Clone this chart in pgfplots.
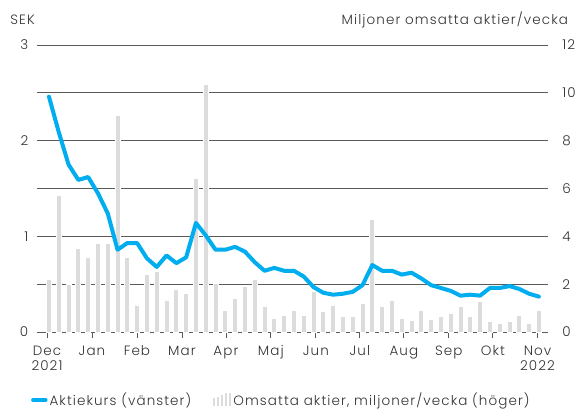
\documentclass[border=0pt]{standalone}
\usepackage{pgfplots}
\pgfplotsset{compat=1.18}
\usepackage{pgfplotstable}
\usepackage{fontspec}
\setmainfont{Poppins}[UprightFont=* Light, LetterSpace=8]
\definecolor{kurs}{HTML}{00AEEF}
\definecolor{barc}{HTML}{DCDCDC}
\definecolor{gridc}{HTML}{5A5A5A}
\definecolor{txt}{HTML}{333333}

\pgfplotstableread{
x v
0 2.2
1 5.7
2 2.0
3 3.5
4 3.1
5 3.7
6 3.7
7 9.06
8 3.12
9 1.13
10 2.42
11 2.55
12 1.34
13 1.76
14 1.63
15 6.42
16 10.33
17 2.03
18 0.92
19 1.41
20 1.9
21 2.2
22 1.06
23 0.57
24 0.71
25 0.92
26 0.71
27 1.69
28 0.85
29 1.13
30 0.64
31 0.64
32 1.2
33 4.71
34 1.06
35 1.3
36 0.57
37 0.5
38 0.92
39 0.54
40 0.64
41 0.78
42 1.06
43 0.64
44 1.27
45 0.43
46 0.36
47 0.43
48 0.71
49 0.36
50 0.92
}\volym

\pgfplotstableread{
x v
0 2.46
1 2.09
2 1.75
3 1.59
4 1.62
5 1.45
6 1.24
7 0.86
8 0.93
9 0.93
10 0.77
11 0.68
12 0.80
13 0.72
14 0.78
15 1.14
16 1.01
17 0.86
18 0.86
19 0.89
20 0.84
21 0.73
22 0.64
23 0.67
24 0.64
25 0.64
26 0.58
27 0.47
28 0.41
29 0.39
30 0.40
31 0.42
32 0.49
33 0.70
34 0.64
35 0.64
36 0.60
37 0.62
38 0.56
39 0.49
40 0.46
41 0.43
42 0.38
43 0.39
44 0.38
45 0.46
46 0.46
47 0.48
48 0.45
49 0.40
50 0.37
}\kurs

\begin{document}
\fontsize{13.5}{15}\selectfont
\begin{tikzpicture}
\pgfplotsset{
  base/.style={
    scale only axis,
    width=510.7pt, height=287pt,
    xmin=-1.22, xmax=50.9,
    ymin=0,
    clip=false,
    /pgf/number format/assume math mode=true,
    tick label style={font=\fontsize{13.5}{15}\selectfont, text=txt},
    label style={font=\fontsize{13.5}{15}\selectfont, text=txt},
  }
}
\begin{axis}[base,
  ymax=12,
  axis x line*=bottom,
  axis y line*=right,
  y axis line style={draw=none},
  x axis line style={draw=gridc, line width=1pt},
  ytick={0,2,...,12},
  ytick style={draw=none},
  yticklabel style={xshift=4pt},
  ymajorgrids,
  grid style={draw=gridc, line width=1pt},
  xtick={-0.2,4.39,8.98,13.57,18.06,22.65,27.24,31.73,36.22,40.8,45.3,49.86},
  xticklabels={{Dec\\2021},Jan,Feb,Mar,Apr,Maj,Jun,Jul,Aug,Sep,Okt,{Nov\\2022}},
  xticklabel style={align=center, anchor=north, yshift=-3pt},
  tick align=outside,
  major tick length=6pt,
  xtick style={draw=gridc, line width=0.8pt},
  ylabel={Miljoner omsatta aktier/vecka},
  ylabel style={rotate=-90, at={(axis description cs:1.04,1.073)}, anchor=base east, inner sep=0pt},
]
\addplot[ybar, bar width=5pt, fill=barc, draw=white, line width=0.9pt] table[x=x,y=v] {\volym};
\end{axis}
\begin{axis}[base,
  ymax=3,
  axis x line=none,
  axis y line*=left,
  y axis line style={draw=none},
  ytick={0,1,2,3},
  ytick style={draw=none},
  yticklabel style={xshift=-4pt},
  xtick=\empty,
  ylabel={SEK},
  ylabel style={rotate=-90, at={(axis description cs:-0.004,1.073)}, anchor=base east, inner sep=0pt},
  legend style={
    at={(axis description cs:-0.012,-0.237)}, anchor=west,
    draw=none, fill=none,
    font=\fontsize{13.5}{15}\selectfont, text=txt,
    legend columns=2,
    /tikz/every even column/.append style={column sep=20pt},
    inner sep=0pt, nodes={inner sep=2pt},
  },
  legend cell align=left,
]
\addplot[kurs, line width=4pt, line join=round, line cap=round,
  legend image code/.code={\draw[kurs, line width=4.5pt, line cap=round] (3pt,0pt) -- (15pt,0pt);}]
  table[x=x,y=v] {\kurs};
\addlegendentry{Aktiekurs (vänster)}
\addlegendimage{legend image code/.code={
  \draw[barc, line width=2pt] (1pt,-6pt) -- (1pt,2pt);
  \draw[barc, line width=2pt] (5pt,-6pt) -- (5pt,3.5pt);
  \draw[barc, line width=2pt] (9pt,-6pt) -- (9pt,5pt);
  \draw[barc, line width=2pt] (13pt,-6pt) -- (13pt,7pt);
  \draw[barc, line width=2pt] (17pt,-6pt) -- (17pt,7pt);
}}
\addlegendentry{Omsatta aktier, miljoner/vecka (höger)}
\end{axis}
\pgfresetboundingbox
\path[use as bounding box] (current axis.south west) ++(-37pt,-81pt) rectangle ++(577pt,413pt);
\end{tikzpicture}
\end{document}
